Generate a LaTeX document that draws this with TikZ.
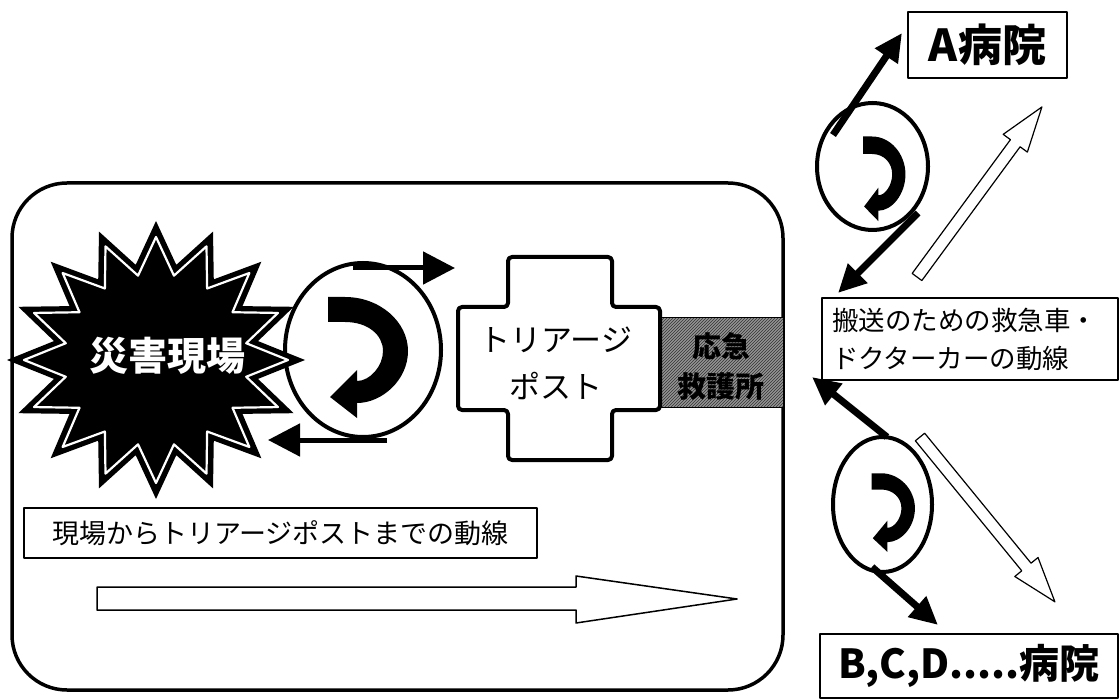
\documentclass[tikz,border=0pt]{standalone}
\usepackage{fontspec}
\newfontfamily\jp{Noto Sans CJK JP}
\usetikzlibrary{arrows.meta,shapes.geometric,patterns}
\tikzset{
  uturn/.pic={
    \fill (-32,-55) -- (-15,-55) .. controls (20,-55) and (48,-30) .. (48,-1)
      .. controls (48,28) and (22,51) .. (-3,51) -- (-3,66) -- (-30,45) -- (-3,18) -- (-3,29)
      .. controls (10,29) and (23,14) .. (23,-1) .. controls (23,-17) and (8,-30) .. (-15,-30)
      -- (-32,-30) -- cycle;
  }
}
\begin{document}
\begin{tikzpicture}[x=1pt,y=-1pt,line join=round,
  box/.style={draw, line width=1.5pt, fill=white, inner sep=0pt},
  ring/.style={draw, ellipse, line width=4pt, inner sep=0pt},
  thickarrow/.style={line width=5pt, -{Triangle[length=32pt,width=32pt]}},
  diagarrow/.style={line width=7pt, -{Triangle[length=28pt,width=26pt]}},
  hollow/.style={draw, line width=1.2pt, fill=white}]
\useasboundingbox (0,0) rectangle (1119,700);

% scene frame
\draw[line width=3.5pt, rounded corners=55pt] (12,183) rectangle (783,690);

% circle with U-turn near the scene
\node[ring, minimum width=156pt, minimum height=174pt] (c1) at (363,350) {};
\pic at (360,352) {uturn};
\coordinate (a1s) at (353,268);
\coordinate (a1e) at (455,268);
\draw[thickarrow] (a1s) -- (a1e);
\coordinate (a2s) at (387,440);
\coordinate (a2e) at (268,440);
\draw[thickarrow] (a2s) -- (a2e);

% starburst (disaster site)
\coordinate (star) at (156,360);
\fill (305,360) \foreach \i in {0,...,15}{
  -- ({156+149*cos(\i*22.5)},{360+139*sin(\i*22.5)})
  -- ({156+104*cos(\i*22.5+11.25)},{360+97*sin(\i*22.5+11.25)}) } -- cycle;
\draw[white, line width=2.2pt] (288,360) \foreach \i in {0,...,15}{
  -- ({156+132*cos(\i*22.5)},{360+123*sin(\i*22.5)})
  -- ({156+92*cos(\i*22.5+11.25)},{360+86*sin(\i*22.5+11.25)}) } -- cycle;
\node[text=white, font=\jp\bfseries\fontsize{39}{44}\selectfont] (genba) at (167,356) {災害現場};

% emergency aid station (hatched)
\fill[black!42] (660,318) rectangle (783,407);
\fill[pattern=north east lines, pattern color=black!80] (660,318) rectangle (783,407);
\draw[line width=1pt] (660,318) rectangle (783,407);
\node[font=\jp\bfseries\fontsize{29}{40}\selectfont, align=center] (kyugo) at (721,366) {応急\\救護所};

% triage post cross
\draw[line width=4pt, fill=white, rounded corners=4pt]
  (508,257) -- (612,257) -- (612,307) -- (660,307) -- (660,410) -- (612,410) -- (612,460)
  -- (508,460) -- (508,410) -- (458,410) -- (458,307) -- (508,307) -- cycle;
\node[font=\jp\fontsize{31}{47}\selectfont, align=center] (triage) at (556,363) {トリアージ\\ポスト};

% caption and big hollow arrow
\node[box, minimum width=513pt, minimum height=50pt, font=\jp\fontsize{27}{32}\selectfont] (t1) at (280.5,533) {現場からトリアージポストまでの動線};
\draw[hollow, line width=1.5pt] (97,587) -- (576,587) -- (576,576) -- (737,599) -- (576,623) -- (576,610) -- (97,610) -- cycle;

% hospitals
\node[box, minimum width=159pt, minimum height=66pt, font=\jp\bfseries\fontsize{44}{50}\selectfont] (hospA) at (987.5,45) {A病院};
\node[box, minimum width=298pt, minimum height=64pt, font=\jp\bfseries\fontsize{40}{46}\selectfont] (hospB) at (969,666) {B,C,D.....病院};
\node[box, minimum width=296pt, minimum height=82pt, text width=276pt, align=left, font=\jp\fontsize{26.5}{38}\selectfont] (t2) at (970,339) {搬送のための救急車・\\ドクターカーの動線};

% upper circle and its lines
\node[ring, minimum width=111pt, minimum height=127pt] (c2) at (872.5,166.5) {};
\pic[xscale=0.53, yscale=0.7] at (880,175) {uturn};
\coordinate (d1s) at (833,135);
\coordinate (d1e) at (902,33);
\draw[diagarrow] (d1s) -- (d1e);
\coordinate (d2s) at (918,213);
\coordinate (d2e) at (838,293);
\draw[diagarrow] (d2s) -- (d2e);

% lower circle and its lines
\node[ring, minimum width=99pt, minimum height=135pt] (c3) at (882.5,504.5) {};
\pic[xscale=0.54, yscale=0.65] at (889,509) {uturn};
\coordinate (d3s) at (887,437);
\coordinate (d3e) at (812,377);
\draw[diagarrow] (d3s) -- (d3e);
\coordinate (d4s) at (872,567);
\coordinate (d4e) at (938,625);
\draw[diagarrow] (d4s) -- (d4e);

% hollow arrows on the right
\begin{scope}[shift={(917,277)}, rotate=53.7]
  \draw[hollow] (0,-6) -- (166,-6) -- (166,-15) -- (211,0) -- (166,15) -- (166,6) -- (0,6) -- cycle;
\end{scope}
\begin{scope}[shift={(920,437)}, rotate=-50.7]
  \draw[hollow] (0,-6) -- (168,-6) -- (168,-15) -- (213,0) -- (168,15) -- (168,6) -- (0,6) -- cycle;
\end{scope}
\end{tikzpicture}
\end{document}
